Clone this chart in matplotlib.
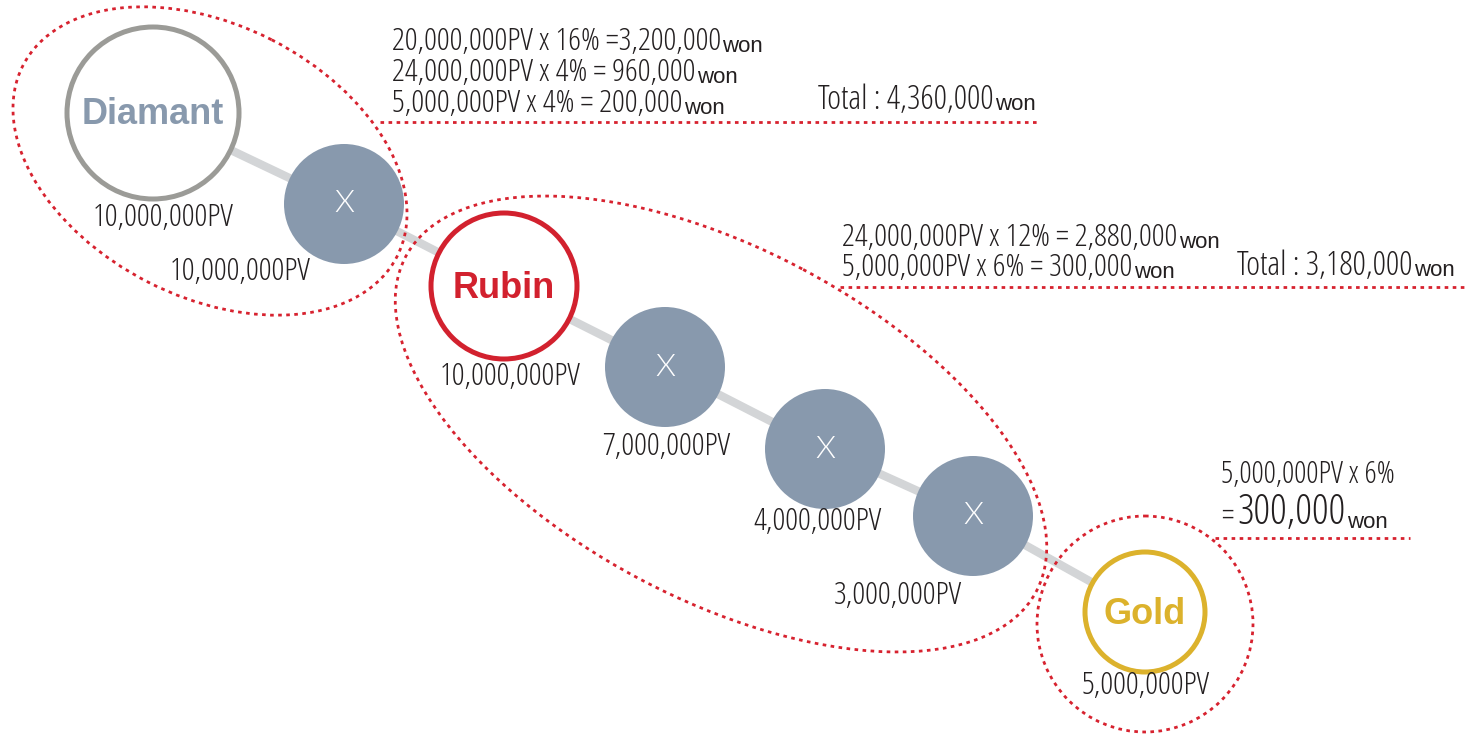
import matplotlib
matplotlib.use('AGG')
import matplotlib.pyplot as plt
from matplotlib.patches import Circle, Ellipse

# ---- data ----
node_titles = ['Diamant', 'X', 'Rubin', 'X', 'X', 'X', 'Gold']
node_pv = [10000000, 10000000, 10000000, 7000000, 4000000, 3000000, 5000000]

diamant_calc = ['20,000,000PV x 16% =3,200,000',
                '24,000,000PV x 4% = 960,000',
                '5,000,000PV x 4% = 200,000']
diamant_total = 4360000
rubin_calc = ['24,000,000PV x 12% = 2,880,000',
              '5,000,000PV x 6% = 300,000']
rubin_total = 3180000
gold_calc = '5,000,000PV x 6%'
gold_result = 300000

# ---- layout (pixel space) ----
node_xy = [(153, 113), (344, 204), (504, 286), (665, 367), (825, 449), (973, 516), (1145, 612)]
node_r = [86, 60, 73, 60, 60, 60, 60]
label_xy = [(163, 218), (240, 272), (510, 377), (666, 447), (818, 522), (898, 596), (1146, 686)]

RED = '#d7222f'
SLATE = '#8899ad'
DARK = '#231f20'
ring_color = {'Diamant': '#9b9b97', 'Rubin': '#d2212e', 'Gold': '#dcb22c'}
title_color = {'Diamant': '#8899ad', 'Rubin': '#d2212e', 'Gold': '#dcb22c'}
NARROW = dict(family=['Open Sans', 'DejaVu Sans'], stretch='condensed', weight=300)
WIDE = ['Liberation Sans', 'DejaVu Sans']
dots = (0, (1.3, 1.6))

fig = plt.figure(figsize=(14.74, 7.36), dpi=100)
ax = fig.add_axes([0, 0, 1, 1])
ax.set_xlim(0, 1474)
ax.set_ylim(736, 0)
ax.axis('off')

# connecting line
ax.plot([p[0] for p in node_xy], [p[1] for p in node_xy], color='#d3d5d7', lw=6, zorder=1,
        solid_capstyle='butt')

for (x, y), r, name, pv, (lx, ly) in zip(node_xy, node_r, node_titles, node_pv, label_xy):
    if name == 'X':
        ax.add_patch(Circle((x, y), r, facecolor=SLATE, edgecolor='none', zorder=2))
        ax.text(x, y, 'X', color='white', fontsize=23, ha='center', va='center',
                family=['Lato', 'DejaVu Sans'], weight=300, zorder=3)
    else:
        ax.add_patch(Circle((x, y), r, facecolor='white', edgecolor=ring_color[name],
                            lw=3.6, zorder=2))
        ax.text(x, y + 2, name, color=title_color[name], fontsize=26, weight='bold',
                ha='center', va='center', family=WIDE, zorder=3)
    ax.text(lx, ly, f'{pv:,}PV', color=DARK, fontsize=23, ha='center', va='center',
            zorder=3, **NARROW)

# dotted group outlines
ax.add_patch(Ellipse((210, 161), 420, 272, angle=27, fill=False, edgecolor=RED, lw=2,
                     ls=dots, zorder=4))
ax.add_patch(Ellipse((721, 424), 714, 350, angle=28, fill=False, edgecolor=RED, lw=2,
                     ls=dots, zorder=4))
ax.add_patch(Circle((1145, 624), 108, fill=False, edgecolor=RED, lw=2, ls=dots, zorder=4))


def won_text(x, y, main, size, won_size):
    t = ax.text(x, y, main, color=DARK, fontsize=size, ha='left', va='center', **NARROW)
    ax.annotate('won', xy=(1, 0), xycoords=t, xytext=(1, 1), textcoords='offset points',
                color=DARK, fontsize=won_size, ha='left', va='bottom', family=WIDE)
    return t


# Diamant calculation
for i, s in enumerate(diamant_calc):
    won_text(392, 42 + 31 * i, s, 23, 16)
won_text(818, 100, f'Total : {diamant_total:,}', 24, 16)
ax.plot([380, 1040], [122, 122], color=RED, lw=2, ls=dots)

# Rubin calculation
for i, s in enumerate(rubin_calc):
    won_text(842, 238 + 30 * i, s, 23, 16)
won_text(1237, 266, f'Total : {rubin_total:,}', 24, 16)
ax.plot([840, 1465], [287, 287], color=RED, lw=2, ls=dots)

# Gold calculation
ax.text(1221, 475, gold_calc, color=DARK, fontsize=22, ha='left', va='center', **NARROW)
ax.text(1221, 517, '=', color=DARK, fontsize=22, ha='left', va='center', **NARROW)
won_text(1237, 513, f'{gold_result:,}', 30, 16)
ax.plot([1215, 1410], [538, 538], color=RED, lw=2, ls=dots)

plt.savefig('out.png', dpi=100)
plt.close('all')
